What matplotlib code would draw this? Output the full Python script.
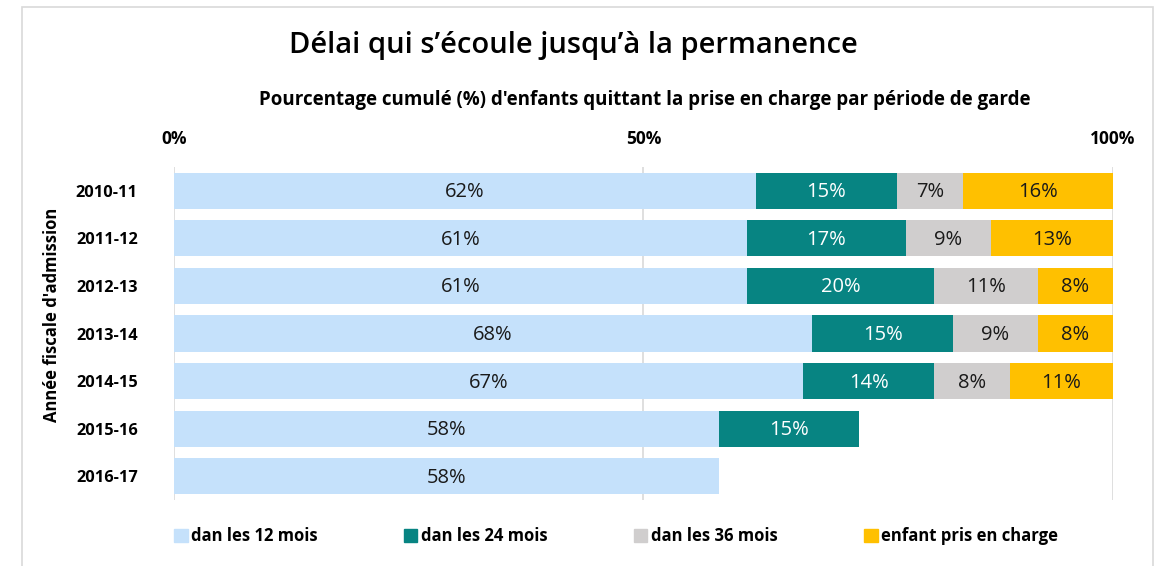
import matplotlib.pyplot as plt
import matplotlib.patches as mpatches
import numpy as np

plt.rcParams['font.family'] = ['Open Sans', 'DejaVu Sans']

years = ['2010-11', '2011-12', '2012-13', '2013-14', '2014-15', '2015-16', '2016-17']
within_12 = [62, 61, 61, 68, 67, 58, 58]
within_24 = [15, 17, 20, 15, 14, 15, 0]
within_36 = [7, 9, 11, 9, 8, 0, 0]
in_care = [16, 13, 8, 8, 11, 0, 0]

series_names = ['dan les 12 mois', 'dan les 24 mois', 'dan les 36 mois', 'enfant pris en charge']
colors = ['#C5E1FB', '#078482', '#D0CECE', '#FFC000']
text_colors = ['#1a1a1a', 'white', '#1a1a1a', '#1a1a1a']

fig = plt.figure(figsize=(11.62, 5.66), dpi=100)
ax = fig.add_axes([0.1497, 0.1166, 0.808, 0.5883])

# frame around the chart
fig.patches.append(mpatches.Rectangle((22 / 1162, -0.05), (1153 - 22) / 1162, 1 - 7 / 566 + 0.05,
                                      transform=fig.transFigure, fill=False,
                                      edgecolor='#D9D9D9', linewidth=1.2))

y = np.arange(len(years))
left = np.zeros(len(years))
for vals, name, c, tc in zip([within_12, within_24, within_36, in_care], series_names, colors, text_colors):
    vals = np.array(vals, dtype=float)
    bars = ax.barh(y, vals, left=left, height=0.76, color=c, label=name, zorder=2)
    for rect, v in zip(bars, vals):
        if v > 0:
            ax.text(rect.get_x() + rect.get_width() / 2, rect.get_y() + rect.get_height() / 2 + 0.03,
                    f'{v:.0f}%', ha='center', va='center', color=tc, fontsize=14.5,
                    fontweight='medium', zorder=3)
    left += vals

ax.set_xlim(0, 100)
ax.set_ylim(len(years) - 0.5, -0.5)
ax.set_yticks(y, years, fontsize=11.8, fontweight='bold')
ax.set_xticks([0, 50, 100], ['0%', '50%', '100%'], fontsize=12.5, fontweight='bold')
ax.xaxis.tick_top()
ax.tick_params(axis='both', length=0)
ax.tick_params(axis='x', pad=14)
ax.tick_params(axis='y', pad=26)
for s in ax.spines.values():
    s.set_visible(False)
ax.grid(axis='x', color='#D9D9D9', linewidth=1.2, zorder=0)
ax.set_axisbelow(True)

fig.text(52 / 1162, 1 - 315 / 566, "Année fiscale d'admission", rotation=90, ha='center',
         va='center', fontsize=12, fontweight='bold')

fig.text(573 / 1162, 1 - 45 / 566, "Délai qui s’écoule jusqu’à la permanence", ha='center',
         va='center', fontsize=21, fontweight='semibold')
fig.text(645 / 1162, 1 - 100 / 566,
         "Pourcentage cumulé (%) d'enfants quittant la prise en charge par période de garde",
         ha='center', va='center', fontsize=13.5, fontweight='bold')

handles = [mpatches.Patch(color=c, label=n) for c, n in zip(colors, series_names)]
fig.legend(handles=handles, loc='center', bbox_to_anchor=(616 / 1162, 1 - 536 / 566), ncol=4,
           frameon=False, handlelength=0.8, handleheight=0.8, handletextpad=0.2,
           columnspacing=5.2, prop={'size': 12, 'weight': 'bold'})

fig.savefig('out.png', dpi=100)
